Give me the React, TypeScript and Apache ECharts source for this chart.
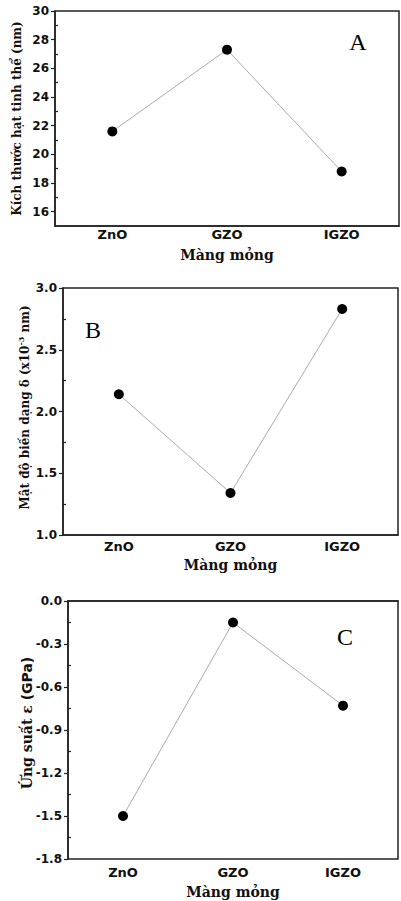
import React, { useEffect, useRef } from "react";
import * as echarts from "echarts";

const categories = ["ZnO", "GZO", "IGZO"];
const crystalSize = [21.6, 27.3, 18.8];
const strainDensity = [2.14, 1.34, 2.83];
const stress = [-1.5, -0.15, -0.73];

const ticksA = [16, 18, 20, 22, 24, 26, 28, 30];
const minorA = [17, 19, 21, 23, 25, 27, 29];
const ticksB = [1.0, 1.5, 2.0, 2.5, 3.0];
const minorB = [1.25, 1.75, 2.25, 2.75];
const ticksC = [-1.8, -1.5, -1.2, -0.9, -0.6, -0.3, 0.0];
const minorC = [-1.65, -1.35, -1.05, -0.75, -0.45, -0.15];

const panelLetters = ["A", "B", "C"];

const SANS = "DejaVu Sans";
const SERIF = "DejaVu Serif";
const INK = "#111";

export default function App() {
  const ref = useRef<HTMLDivElement>(null);
  useEffect(() => {
    document.body.style.margin = "0";
    const chart = echarts.init(ref.current!, null, { renderer: "svg" });

    const grids = [
      { left: 55, top: 11, width: 344, height: 215 },
      { left: 63, top: 288, width: 335, height: 247 },
      { left: 68, top: 601, width: 330, height: 258 },
    ];
    const yDefs = [
      { min: 15, max: 30, ticks: ticksA, minor: minorA, dec: 0, name: "Kích thước hạt tinh thể (nm)", gap: 32, pad: [0, 0, 0, 0], size: 12 },
      { min: 1, max: 3, ticks: ticksB, minor: minorB, dec: 1, name: "Mật độ biến dạng δ (x10{sup|-3} nm)", gap: 30, pad: [0, 0, 0, 8], size: 12 },
      { min: -1.8, max: 0, ticks: ticksC, minor: minorC, dec: 1, name: "Ứng suất ε {sans|(GPa)}", gap: 34, pad: [0, 0, 0, 14], size: 14 },
    ];
    const xLabelMargin = [2, 5, 7];
    const xNameGap = [22, 23, 26];
    const data = [crystalSize, strainDensity, stress];

    const xAxis: any[] = [];
    const yAxis: any[] = [];
    const series: any[] = [];

    grids.forEach((g, i) => {
      xAxis.push({
        type: "category",
        gridIndex: i,
        position: "bottom",
        data: categories,
        boundaryGap: true,
        axisLine: { lineStyle: { color: "#222", width: 1.5 } },
        axisTick: { alignWithLabel: true, inside: true, length: 4, lineStyle: { color: "#222", width: 1.2 } },
        axisLabel: { margin: xLabelMargin[i], fontFamily: SANS, fontWeight: "bold", fontSize: 13, color: INK },
        name: "Màng mỏng",
        nameLocation: "middle",
        nameGap: xNameGap[i],
        nameTextStyle: { fontFamily: SERIF, fontWeight: "bold", fontSize: 14, color: INK },
        splitLine: { show: false },
      });
      xAxis.push({
        type: "category",
        gridIndex: i,
        position: "bottom",
        data: categories,
        boundaryGap: true,
        axisLine: { show: false },
        axisTick: { alignWithLabel: false, inside: true, length: 2, lineStyle: { color: "#222", width: 1.2 } },
        axisLabel: { show: false },
        splitLine: { show: false },
      });
      const y = yDefs[i];
      yAxis.push({
        type: "value",
        gridIndex: i,
        position: "left",
        min: y.min,
        max: y.max,
        axisLine: { show: true, lineStyle: { color: "#222", width: 1.5 } },
        axisTick: { show: true, inside: false, length: 4, customValues: y.ticks, lineStyle: { color: "#222", width: 1.2 } },
        axisLabel: {
          margin: 6,
          customValues: y.ticks,
          formatter: (v: number) => v.toFixed(y.dec),
          fontFamily: SANS,
          fontWeight: "bold",
          fontSize: 12,
          color: INK,
        },
        splitLine: { show: false },
        name: y.name,
        nameLocation: "middle",
        nameGap: y.gap,
        nameRotate: 90,
        nameMoveOverlap: false,
        nameTextStyle: {
          fontFamily: SERIF,
          fontWeight: "bold",
          fontSize: y.size,
          color: INK,
          padding: y.pad,
          rich: {
            sup: { fontFamily: SERIF, fontWeight: "bold", fontSize: 8, color: INK, verticalAlign: "top", padding: [0, 0, 8, 0] },
            sans: { fontFamily: SANS, fontWeight: "bold", fontSize: y.size, color: INK },
          },
        },
      });
      yAxis.push({
        type: "value",
        gridIndex: i,
        position: "left",
        min: y.min,
        max: y.max,
        axisLine: { show: false },
        axisTick: { show: true, inside: true, length: 3, customValues: y.minor, lineStyle: { color: "#222", width: 1.2 } },
        axisLabel: { show: false, customValues: y.minor },
        splitLine: { show: false },
      });
      series.push({
        type: "line",
        xAxisIndex: i * 2,
        yAxisIndex: i * 2,
        data: data[i],
        symbol: "circle",
        symbolSize: 10,
        itemStyle: { color: "#000" },
        lineStyle: { color: "#aaa", width: 1 },
        z: 3,
      });
    });

    const letterPos = [
      [358, 42],
      [93, 330],
      [345, 637],
    ];

    chart.setOption({
      animation: false,
      grid: grids.map((g) => ({ ...g, show: true, borderColor: "#222", borderWidth: 1.5, backgroundColor: "transparent" })),
      xAxis,
      yAxis,
      series,
      graphic: panelLetters.map((t, i) => ({
        type: "text",
        x: letterPos[i][0],
        y: letterPos[i][1],
        style: { text: t, fontFamily: "Liberation Serif", fontSize: 24, fill: "#000", align: "center", verticalAlign: "middle" },
      })),
    });
    return () => chart.dispose();
  }, []);
  return <div ref={ref} style={{ width: 401, height: 901 }} />;
}
